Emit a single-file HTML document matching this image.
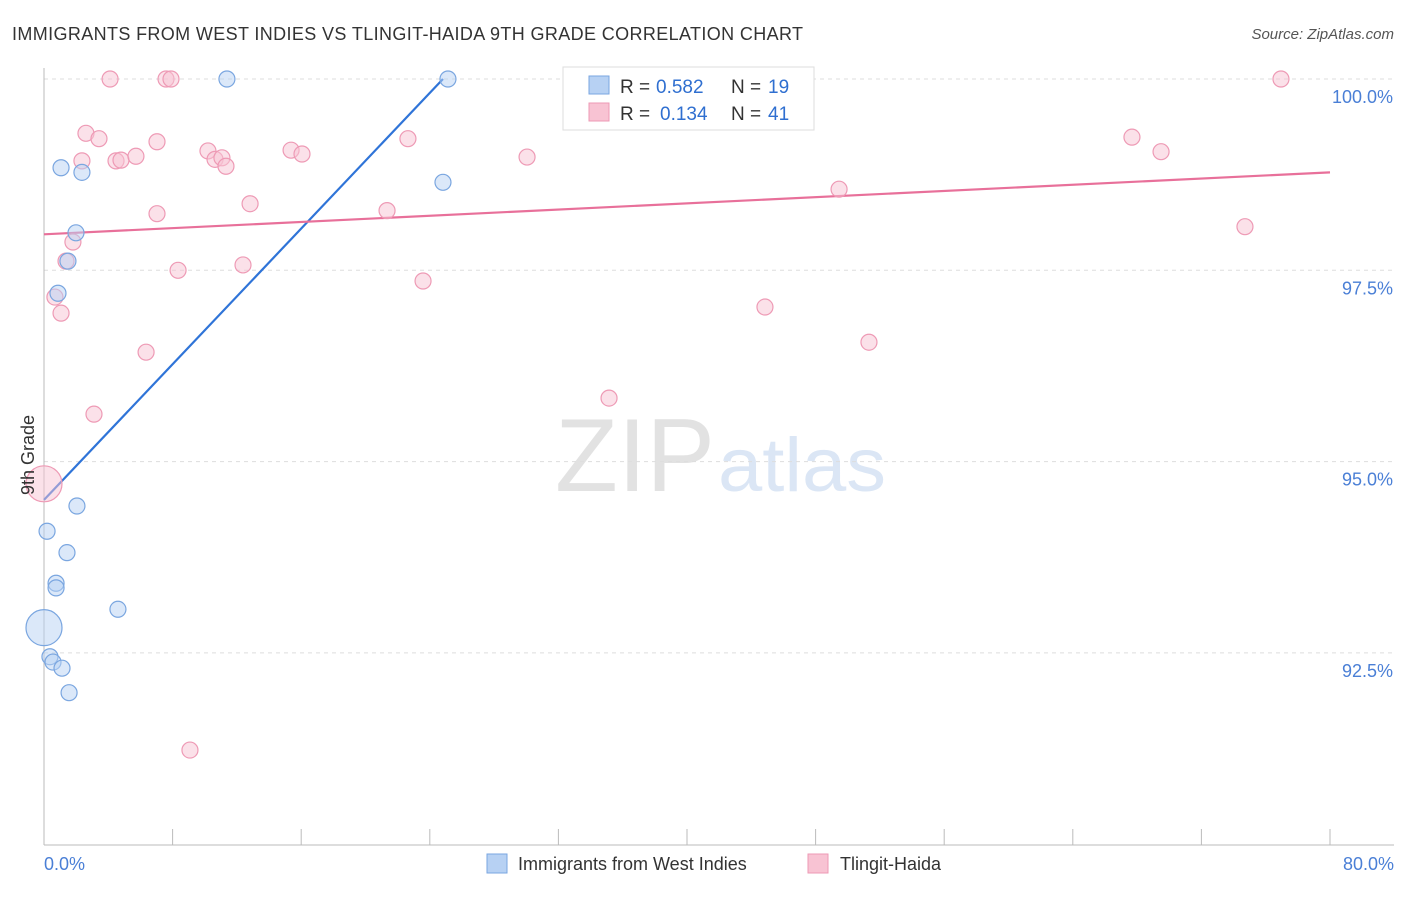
<!DOCTYPE html>
<html><head><meta charset="utf-8"><style>
body{margin:0;background:#fff;font-family:"Liberation Sans",sans-serif;}
svg text{font-family:"Liberation Sans",sans-serif;}
</style></head><body>
<svg id="chart" width="1406" height="892" viewBox="0 0 1406 892">
<text x="12" y="40" font-size="18" fill="#333" textLength="791" lengthAdjust="spacing">IMMIGRANTS FROM WEST INDIES VS TLINGIT-HAIDA 9TH GRADE CORRELATION CHART</text>
<text x="1394" y="39" font-size="15" fill="#555" text-anchor="end" font-style="italic">Source: ZipAtlas.com</text>
<text x="555" y="491" font-size="104" fill="#e2e2e2" textLength="160" lengthAdjust="spacingAndGlyphs" font-family="Liberation Serif">ZIP</text>
<text x="718" y="491" font-size="76" fill="#dbe6f5" textLength="168" lengthAdjust="spacingAndGlyphs">atlas</text>
<g id="grid"></g><g id="axes"></g><g id="lines"></g><g id="points"></g>
<text transform="translate(34,455) rotate(-90)" font-size="18" fill="#333" text-anchor="middle">9th Grade</text>
<text x="44" y="870" font-size="18" fill="#4a7fd6">0.0%</text>
<text x="1394" y="870" font-size="18" fill="#4a7fd6" text-anchor="end">80.0%</text>
<g>
<rect x="563" y="67" width="251" height="63" fill="#fff" stroke="#ddd"/>
<rect x="589" y="76" width="20" height="18" fill="#b7d1f3" stroke="#7aa6e0"/>
<rect x="589" y="103" width="20" height="18" fill="#f8c3d3" stroke="#ee9ab5"/>
<text x="620" y="93" font-size="19" fill="#333">R =</text>
<text x="656" y="93" font-size="19" fill="#2f6fd0">0.582</text>
<text x="731" y="93" font-size="19" fill="#333">N =</text>
<text x="768" y="93" font-size="19" fill="#2f6fd0">19</text>
<text x="620" y="120" font-size="19" fill="#333">R =</text>
<text x="660" y="120" font-size="19" fill="#2f6fd0">0.134</text>
<text x="731" y="120" font-size="19" fill="#333">N =</text>
<text x="768" y="120" font-size="19" fill="#2f6fd0">41</text>
</g>
<g>
<rect x="487" y="854" width="20" height="19" fill="#b7d1f3" stroke="#7aa6e0"/>
<text x="518" y="870" font-size="18" fill="#333">Immigrants from West Indies</text>
<rect x="808" y="854" width="20" height="19" fill="#f8c3d3" stroke="#ee9ab5"/>
<text x="840" y="870" font-size="18" fill="#333">Tlingit-Haida</text>
</g>
</svg>
<script>
const yTicks=[100,97.5,95,92.5];
const yTickLabels=["100.0%","97.5%","95.0%","92.5%"];
const xTicks=[0,8,16,24,32,40,48,56,64,72,80];
const blueX=[1.06,2.36,11.38,25.13,24.82,1.99,1.49,0.87,0.19,2.05,1.43,0.75,0.75,4.60,0,0.37,0.56,1.12,1.56];
const blueY=[98.84,98.78,100,100,98.65,97.99,97.62,97.20,94.09,94.42,93.81,93.41,93.35,93.07,92.83,92.45,92.38,92.30,91.98];
const blueR=[8,8,8,8,8,8,8,8,8,8,8,8,8,8,18,8,8,8,8];
const pinkX=[4.11,7.59,7.90,36.64,76.95,2.61,3.42,7.03,2.36,4.48,4.79,5.72,10.20,10.64,11.07,11.32,15.37,16.05,22.64,30.05,67.68,69.49,49.46,7.03,12.82,21.34,1.80,1.37,8.34,12.38,23.58,0.68,1.06,44.85,51.32,6.35,3.11,35.15,0,9.08,74.71];
const pinkY=[100,100,100,100,100,99.29,99.22,99.18,98.93,98.93,98.94,98.99,99.06,98.95,98.97,98.86,99.07,99.02,99.22,98.98,99.24,99.05,98.56,98.24,98.37,98.28,97.87,97.62,97.50,97.57,97.36,97.15,96.94,97.02,96.56,96.43,95.62,95.83,94.71,91.23,98.07];
const pinkR=pinkX.map((v,i)=>i===38?18:8);
const blueTrend=[[0,94.50],[24.82,100]];
const pinkTrend=[[0,97.97],[80,98.78]];
const NS="http://www.w3.org/2000/svg";
const X=v=>44+v*1286/80;
const Y=v=>79+(100-v)*191.3/2.5;
function mk(t,a,p){const e=document.createElementNS(NS,t);for(const k in a)e.setAttribute(k,a[k]);p.appendChild(e);return e;}
const grid=document.getElementById('grid'),axes=document.getElementById('axes'),lines=document.getElementById('lines'),pts=document.getElementById('points');
yTicks.forEach((t,i)=>{
 const l=mk('line',{x1:44,x2:1394,y1:Y(t),y2:Y(t),stroke:'#ddd','stroke-dasharray':'4,4'},grid);
 
 
 const tx=mk('text',{x:1393,y:Y(t)+24,'font-size':18,fill:'#4a7fd6','text-anchor':'end'},grid);
 tx.textContent=yTickLabels[i];
 
 
});
const xa=mk('line',{x1:44,x2:1394,y1:845,y2:845,stroke:'#bbb'},axes);


const ya=mk('line',{x1:44,x2:44,y1:68,y2:845,stroke:'#bbb'},axes);


xTicks.forEach(t=>{
 const l=mk('line',{x1:X(t),x2:X(t),y1:829,y2:845,stroke:'#bbb'},axes);
 
 
});
function dots(xs,ys,rs,fill,stroke,name){
 xs.forEach((v,i)=>{
  const c=mk('circle',{cx:X(v),cy:Y(ys[i]),r:rs[i],fill:fill,'fill-opacity':0.5,stroke:stroke,'stroke-width':1.2},pts);
  
  
 });
}
dots(pinkX,pinkY,pinkR,'#f8c3d3','#ee9ab5','tlingit-haida-point');
dots(blueX,blueY,blueR,'#b7d1f3','#7aa6e0','west-indies-point');
const bl=mk('line',{x1:X(blueTrend[0][0]),y1:Y(blueTrend[0][1]),x2:X(blueTrend[1][0]),y2:Y(blueTrend[1][1]),stroke:'#2f74d8','stroke-width':2.2},lines);


const pl=mk('line',{x1:X(pinkTrend[0][0]),y1:Y(pinkTrend[0][1]),x2:X(pinkTrend[1][0]),y2:Y(pinkTrend[1][1]),stroke:'#e8709a','stroke-width':2.2},lines);


</script>
</body></html>
